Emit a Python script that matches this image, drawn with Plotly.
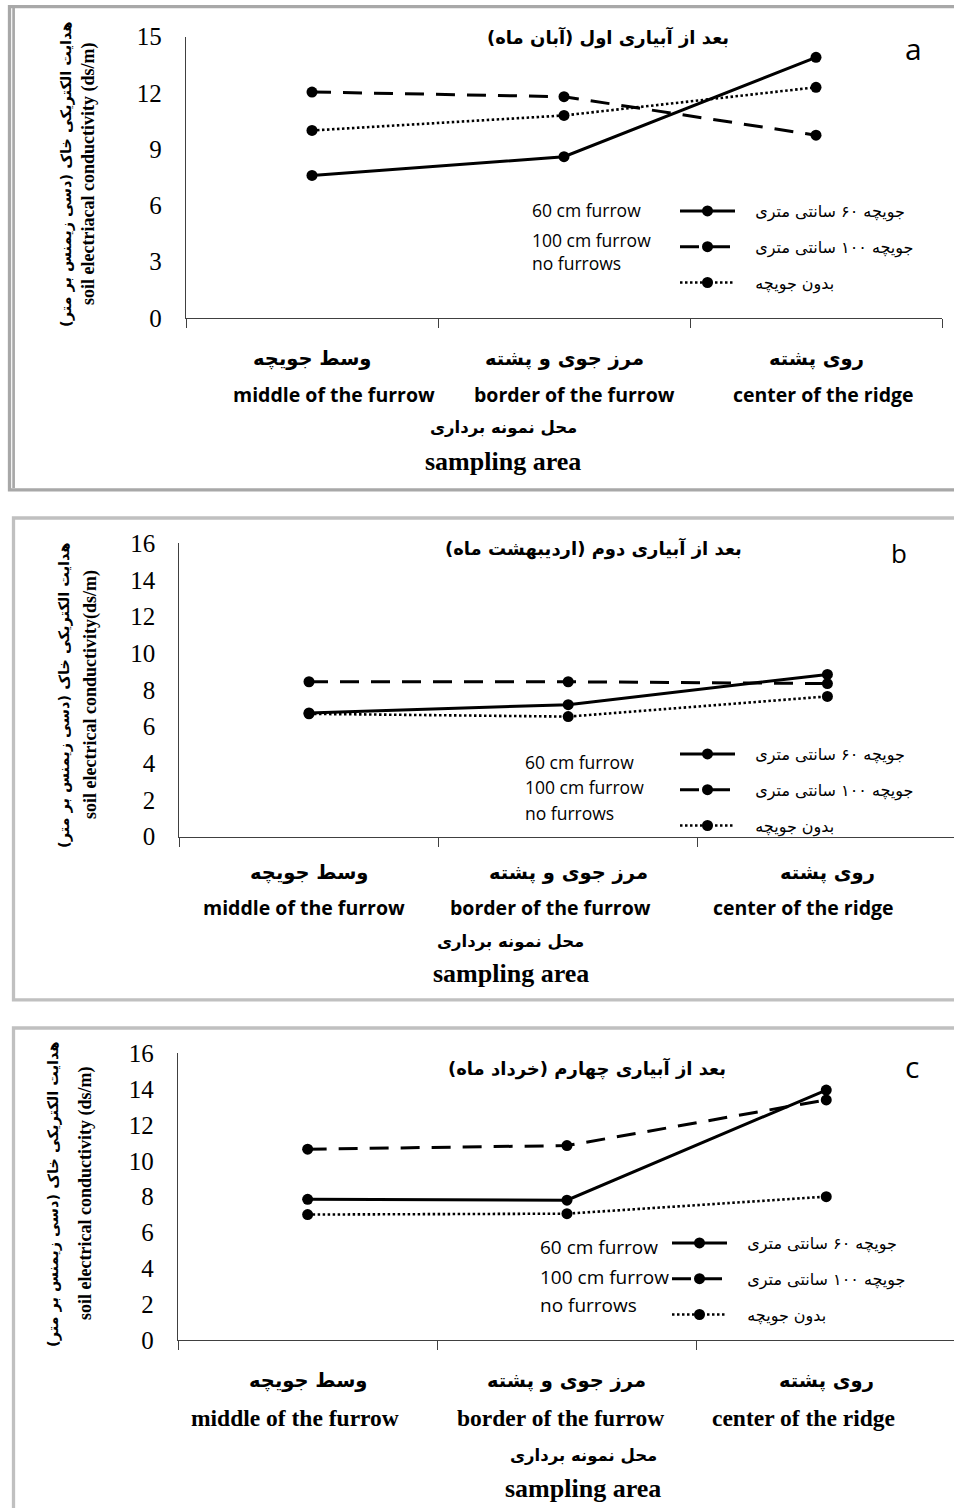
import plotly.graph_objects as go

W, H = 954, 1508

# ---------------- data ----------------
categories_fa = ["وسط جویچه", "مرز جوی و پشته", "روی پشته"]
categories_en = ["middle of the furrow", "border of the furrow", "center of the ridge"]

series_fa = ["جویچه ۶۰ سانتی متری", "جویچه ۱۰۰ سانتی متری", "بدون جویچه"]
series_en = ["60 cm furrow", "100 cm furrow", "no furrows"]

panel_titles = ["بعد از آبیاری اول (آبان ماه)",
                "بعد از آبیاری دوم (اردیبهشت ماه)",
                "بعد از آبیاری چهارم (خرداد ماه)"]
panel_letters = ["a", "b", "c"]

ytitle_fa = "هدایت الکتریکی خاک (دسی زیمنس بر متر)"
ytitles_en = ["soil electriacal conductivity (ds/m)",
              "soil electrical conductivity(ds/m)",
              "soil electrical conductivity (ds/m)"]
xtitle_fa = "محل نمونه برداری"
xtitle_en = "sampling area"

# panel a
a_60 = [7.6, 8.6, 13.9]
a_100 = [12.05, 11.8, 9.75]
a_no = [10.0, 10.8, 12.3]
# panel b
b_60 = [6.75, 7.2, 8.85]
b_100 = [8.45, 8.45, 8.35]
b_no = [6.7, 6.55, 7.65]
# panel c
c_60 = [7.85, 7.8, 13.95]
c_100 = [10.65, 10.85, 13.4]
c_no = [7.0, 7.05, 8.0]

yticks_a = [0, 3, 6, 9, 12, 15]
yticks_bc = [0, 2, 4, 6, 8, 10, 12, 14, 16]

# ---------------- helpers ----------------
RLM = "\u200f"
NB = "\u00a0"


def px(x):
    return x / W


def py(y):
    return 1 - y / H


fig = go.Figure()

# panel geometry (pixels)
panels = [
    dict(xl=186, xr=942, cat_w=252, y0=318, ytop=36.7, ymax=15, yt=yticks_a,
         data=[a_60, a_100, a_no]),
    dict(xl=179.4, xr=954, cat_w=259.2, y0=836.7, ytop=543.3, ymax=16, yt=yticks_bc,
         data=[b_60, b_100, b_no]),
    dict(xl=178, xr=954, cat_w=259.3, y0=1340, ytop=1053.3, ymax=16, yt=yticks_bc,
         data=[c_60, c_100, c_no]),
]

dashes = ["solid", "19px,12px", "2.5px,2.5px"]
widths = [3, 3, 2.6]

for p_i, p in enumerate(panels):
    sfx = "" if p_i == 0 else str(p_i + 1)
    xa = "x" + sfx
    ya = "y" + sfx
    leg = "legend" + sfx
    for s_i, vals in enumerate(p["data"]):
        fig.add_trace(go.Scatter(
            x=categories_en, y=vals, xaxis=xa, yaxis=ya,
            mode="lines+markers", name=NB * 3 + series_fa[s_i],
            line=dict(color="black", width=widths[s_i], dash=dashes[s_i]),
            marker=dict(color="black", size=11),
            legend=leg, legendgroup=f"{p_i}-{s_i}", showlegend=True,
        ))
    rng_hi = -0.5 + (p["xr"] - p["xl"]) / p["cat_w"]
    fig.layout["xaxis" + sfx] = dict(
        domain=[px(p["xl"]), px(p["xr"])], anchor=ya, type="category",
        range=[-0.5, rng_hi], tickson="boundaries", ticks="outside", ticklen=9,
        tickcolor="#404040", tickwidth=1.2, showticklabels=False,
        showline=True, linecolor="#404040", linewidth=1.3, showgrid=False,
        zeroline=False, automargin=False,
    )
    fig.layout["yaxis" + sfx] = dict(
        domain=[py(p["y0"]), py(p["ytop"])], anchor=xa, range=[0, p["ymax"]],
        tickvals=p["yt"], ticks="", showline=True, linecolor="#404040",
        linewidth=1.3, showgrid=False, zeroline=False, automargin=False,
        tickfont=dict(family="Liberation Serif", size=25, color="black"),
        ticklabelstandoff=18,
    )

# legends
legend_tops = [194, 737, 1226]
legend_x = [675, 675, 667]
for i in range(3):
    sfx = "" if i == 0 else str(i + 1)
    fig.layout["legend" + sfx] = dict(
        x=px(legend_x[i]), xanchor="left", y=py(legend_tops[i]), yanchor="top",
        bgcolor="rgba(0,0,0,0)", borderwidth=0, traceorder="grouped",
        tracegroupgap=12, font=dict(family="DejaVu Sans", size=16, color="black"),
        itemwidth=55,
    )

ann = []
# English legend annotations (left x, center y)
eng_leg = [
    (530, [210, 240, 263], 17.5),
    (523, [762, 787, 813], 17.5),
    (538, [1247, 1277, 1305], 19),
]
for xl, ys, fs in eng_leg:
    for s_i, yy in enumerate(ys):
        ann.append(dict(text=series_en[s_i], x=px(xl), y=py(yy), xref="paper", yref="paper",
                        xanchor="left", yanchor="middle", showarrow=False,
                        font=dict(family="Open Sans", size=fs, color="black")))

# category labels
fa_y = [358, 872, 1380]
en_y = [394, 907, 1418]
en_shift = [[22, 10, 7], [-5, -18, -24], [-13, -6, -23]]
en_font = [("Open Sans", 19.5), ("Open Sans", 19.5), ("Liberation Serif", 23.5)]
for p_i in range(3):
    sfx = "" if p_i == 0 else str(p_i + 1)
    for c_i in range(3):
        ann.append(dict(text="<b>" + categories_fa[c_i] + "</b>", x=categories_en[c_i],
                        xref="x" + sfx, y=py(fa_y[p_i]), yref="paper",
                        xanchor="center", yanchor="middle", showarrow=False,
                        font=dict(family="DejaVu Sans", size=19.5, color="black")))
        ann.append(dict(text="<b>" + categories_en[c_i] + "</b>", x=categories_en[c_i],
                        xref="x" + sfx, xshift=en_shift[p_i][c_i], y=py(en_y[p_i]), yref="paper",
                        xanchor="center", yanchor="middle", showarrow=False,
                        font=dict(family=en_font[p_i][0], size=en_font[p_i][1], color="black")))

# axis (sampling area) titles
xt_pos = [(503, 428, 462), (511, 942, 973), (583, 1456, 1488)]
for xc, yfa, yen in xt_pos:
    ann.append(dict(text="<b>" + xtitle_fa + "</b>", x=px(xc), y=py(yfa), xref="paper", yref="paper",
                    xanchor="center", yanchor="middle", showarrow=False,
                    font=dict(family="DejaVu Sans", size=16.5, color="black")))
    ann.append(dict(text="<b>" + xtitle_en + "</b>", x=px(xc), y=py(yen), xref="paper", yref="paper",
                    xanchor="center", yanchor="middle", showarrow=False,
                    font=dict(family="Liberation Serif", size=26, color="black")))

# y titles
yt_pos = [(66, 88, 174), (64, 90, 695), (53, 85, 1194)]
for i, (xfa, xen, yc) in enumerate(yt_pos):
    ann.append(dict(text="<b>" + ytitle_fa + RLM + "</b>", x=px(xfa), y=py(yc), xref="paper", yref="paper",
                    xanchor="center", yanchor="middle", showarrow=False, textangle=-90,
                    font=dict(family="DejaVu Sans", size=14.5, color="black")))
    ann.append(dict(text="<b>" + ytitles_en[i] + "</b>", x=px(xen), y=py(yc), xref="paper", yref="paper",
                    xanchor="center", yanchor="middle", showarrow=False, textangle=-90,
                    font=dict(family="Liberation Serif", size=18, color="black")))

# panel titles and letters
title_pos = [(608, 37), (593, 548), (587, 1068)]
letter_pos = [(913, 48, 30), (899, 553, 26), (912, 1066, 30)]
for i in range(3):
    ann.append(dict(text="<b>" + RLM + panel_titles[i] + RLM + "</b>", x=px(title_pos[i][0]),
                    y=py(title_pos[i][1]), xref="paper", yref="paper",
                    xanchor="center", yanchor="middle", showarrow=False,
                    font=dict(family="DejaVu Sans", size=18, color="black")))
    ann.append(dict(text=panel_letters[i], x=px(letter_pos[i][0]), y=py(letter_pos[i][1]),
                    xref="paper", yref="paper", xanchor="center", yanchor="middle",
                    showarrow=False,
                    font=dict(family="Open Sans", size=letter_pos[i][2], color="black")))

# frames
shapes = [
    dict(type="rect", xref="paper", yref="paper", x0=px(9.5), x1=px(975), y0=py(489.8), y1=py(6.6),
         line=dict(color="#a8a8a8", width=3.3), layer="below"),
    dict(type="line", xref="paper", yref="paper", x0=px(13.6), x1=px(13.6), y0=py(488), y1=py(8),
         line=dict(color="#a8a8a8", width=2.7), layer="below"),
    dict(type="rect", xref="paper", yref="paper", x0=px(13.5), x1=px(975), y0=py(999.9), y1=py(518),
         line=dict(color="#c0c0c0", width=3.3), layer="below"),
    dict(type="rect", xref="paper", yref="paper", x0=px(13.5), x1=px(975), y0=py(1540), y1=py(1028),
         line=dict(color="#c0c0c0", width=3.3), layer="below"),
]

fig.update_layout(
    width=W, height=H, margin=dict(l=0, r=0, t=0, b=0, pad=0, autoexpand=False),
    paper_bgcolor="white", plot_bgcolor="white",
    annotations=ann, shapes=shapes,
)

fig.write_html("out.html", config={"displayModeBar": False},
               post_script="document.body.style.margin='0';")
